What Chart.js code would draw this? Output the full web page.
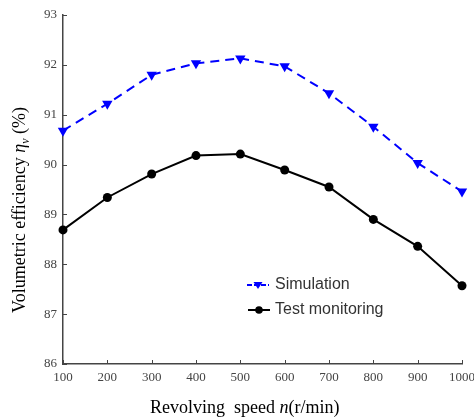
<!DOCTYPE html>
<html>
<head>
<meta charset="utf-8">
<script src="https://cdn.jsdelivr.net/npm/chart.js@4.4.1/dist/chart.umd.min.js"></script>
<style>
  html, body { margin: 0; padding: 0; background: #fff; }
  #wrap { width: 474px; height: 419px; }
</style>
</head>
<body>
<div id="wrap"><canvas id="eff"></canvas></div>
<script>
const speeds = [100, 200, 300, 400, 500, 600, 700, 800, 900, 1000];
const simulation = [90.68, 91.22, 91.8, 92.03, 92.13, 91.97, 91.43, 90.76, 90.03, 89.46];
const testMonitoring = [88.69, 89.34, 89.81, 90.18, 90.21, 89.89, 89.55, 88.9, 88.36, 87.57];
const yTicks = [86, 87, 88, 89, 90, 91, 92, 93];
const xTicks = speeds;

const axisColor = "#444";
const serif = "'Liberation Serif', 'Times New Roman', serif";
const sans = "'Liberation Sans', Arial, sans-serif";

// inward tick marks, axis titles with italic bits, legend inside the plot
const extras = {
  id: "extras",
  afterDraw(chart) {
    const c = chart.ctx;
    const xs = chart.scales.x, ys = chart.scales.y;
    const area = chart.chartArea;
    c.save();
    c.strokeStyle = axisColor;
    c.lineWidth = 1;
    yTicks.forEach(v => {
      const py = Math.round(ys.getPixelForValue(v)) + 0.5;
      c.beginPath(); c.moveTo(area.left, py); c.lineTo(area.left + 4, py); c.stroke();
    });
    xTicks.forEach(v => {
      const px = Math.round(xs.getPixelForValue(v)) + 0.5;
      c.beginPath(); c.moveTo(px, area.bottom); c.lineTo(px, area.bottom - 4); c.stroke();
    });

    // x title
    c.fillStyle = "#000";
    c.textBaseline = "alphabetic";
    const xParts = [
      ["Revolving  speed ", "18px " + serif],
      ["n", "italic 18px " + serif],
      ["(r/min)", "18px " + serif]
    ];
    let x = 150;
    xParts.forEach(p => { c.font = p[1]; c.fillText(p[0], x, 413); x += c.measureText(p[0]).width; });

    // y title, rotated
    const yParts = [
      ["Volumetric efficiency ", "18px " + serif, 0],
      ["\u03b7", "italic 18px " + serif, 0],
      ["v", "italic 12px " + serif, 4],
      [" (%)", "18px " + serif, 0]
    ];
    let w = 0;
    yParts.forEach(p => { c.font = p[1]; w += c.measureText(p[0]).width; });
    c.translate(25, 210);
    c.rotate(-Math.PI / 2);
    x = -w / 2;
    yParts.forEach(p => { c.font = p[1]; c.fillText(p[0], x, p[2]); x += c.measureText(p[0]).width; });
    c.restore();

    // legend
    c.save();
    const rows = [
      { label: "Simulation", color: "#0000ff", y: 285, x0: 247, x1: 269, dash: [5, 2], style: "tri" },
      { label: "Test monitoring", color: "#000", y: 310, x0: 248, x1: 270, dash: [], style: "dot" }
    ];
    rows.forEach(r => {
      c.strokeStyle = r.color; c.fillStyle = r.color; c.lineWidth = 2;
      c.setLineDash(r.dash);
      c.beginPath(); c.moveTo(r.x0, r.y); c.lineTo(r.x1, r.y); c.stroke();
      c.setLineDash([]);
      const mx = (r.x0 + r.x1) / 2;
      c.beginPath();
      if (r.style === "tri") {
        c.moveTo(mx - 4.5, r.y - 3); c.lineTo(mx + 4.5, r.y - 3); c.lineTo(mx, r.y + 4);
      } else {
        c.arc(mx, r.y, 3.8, 0, Math.PI * 2);
      }
      c.fill();
      c.fillStyle = "#333";
      c.font = "16px " + sans;
      c.textBaseline = "middle";
      c.fillText(r.label, 275, r.y);
    });
    c.restore();
  }
};

new Chart(document.getElementById("eff").getContext("2d"), {
  type: "line",
  data: {
    datasets: [
      {
        label: "Simulation",
        data: speeds.map((s, i) => ({ x: s, y: simulation[i] })),
        borderColor: "#0000ff",
        backgroundColor: "#0000ff",
        borderWidth: 2,
        borderDash: [9, 6],
        pointStyle: "triangle",
        rotation: 180,
        pointRadius: 6,
        pointBorderWidth: 0,
        tension: 0,
        clip: false
      },
      {
        label: "Test monitoring",
        data: speeds.map((s, i) => ({ x: s, y: testMonitoring[i] })),
        borderColor: "#000",
        backgroundColor: "#000",
        borderWidth: 2,
        pointStyle: "circle",
        pointRadius: 4.5,
        pointBorderWidth: 0,
        tension: 0,
        clip: false
      }
    ]
  },
  options: {
    responsive: true,
    maintainAspectRatio: false,
    animation: false,
    layout: { padding: { top: 15, right: 12, left: 0, bottom: 0 } },
    plugins: { legend: { display: false }, tooltip: { enabled: false } },
    scales: {
      x: {
        type: "linear",
        min: 100,
        max: 1000,
        afterFit: s => { s.height = 55; s.paddingLeft = 0; s.paddingRight = 0; },
        afterBuildTicks: s => { s.ticks = xTicks.map(v => ({ value: v })); },
        grid: { display: false, drawTicks: false },
        border: { display: true, color: axisColor, width: 1.5 },
        ticks: { color: "#444", padding: 6, maxRotation: 0, callback: v => String(v), font: { family: serif, size: 13 } }
      },
      y: {
        min: 86,
        max: 93,
        afterFit: s => { s.width = 63; s.paddingTop = 0; s.paddingBottom = 0; },
        afterBuildTicks: s => { s.ticks = yTicks.map(v => ({ value: v })); },
        grid: { display: false, drawTicks: false },
        border: { display: true, color: axisColor, width: 1.5 },
        ticks: { color: "#444", padding: 6, font: { family: serif, size: 13 } }
      }
    }
  },
  plugins: [extras]
});
</script>
</body>
</html>
